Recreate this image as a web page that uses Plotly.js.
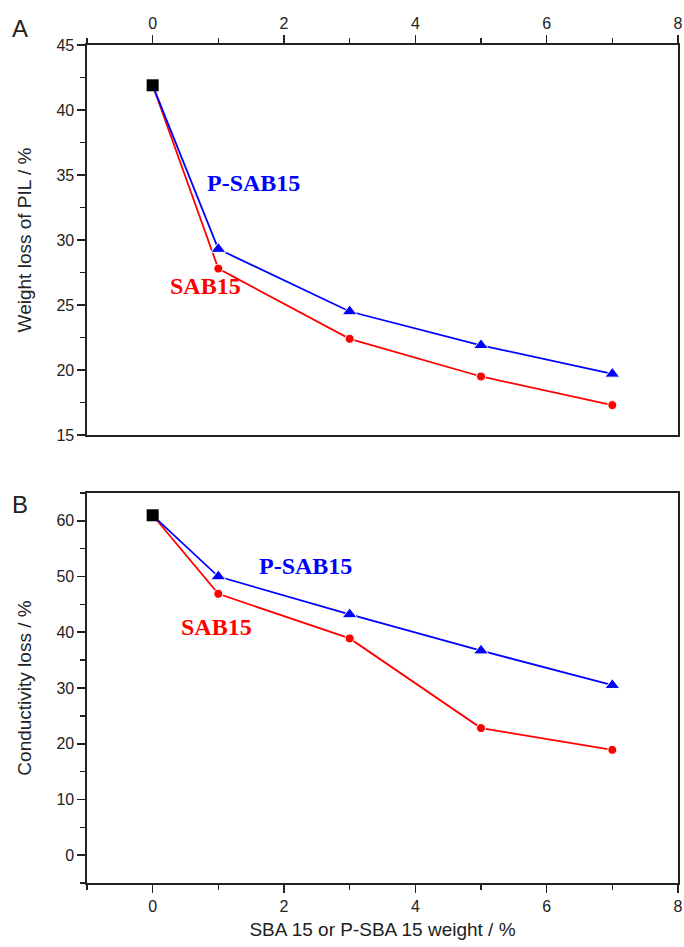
<!DOCTYPE html>
<html>
<head>
<meta charset="utf-8">
<script src="https://cdn.plot.ly/plotly-3.0.1.min.js"></script>
<style>html,body{margin:0;padding:0;background:#fff;}#chart{width:684px;height:947px;}</style>
</head>
<body>
<div id="chart"></div>
<script>
// SBA 15 or P-SBA 15 weight / %
const weights = [0, 1, 3, 5, 7];
// Panel A: Weight loss of PIL / %
const weightLossPSAB15 = [41.9, 29.3, 24.5, 21.9, 19.7];
const weightLossSAB15  = [41.9, 27.8, 22.4, 19.5, 17.3];
// Panel B: Conductivity loss / %
const condLossPSAB15 = [61.0, 50.0, 43.2, 36.7, 30.5];
const condLossSAB15  = [61.0, 46.9, 38.9, 22.8, 18.9];
// Pure PIL reference point (0 %)
const refX = [0];
const refWeightLoss = [41.9];
const refCondLoss = [61.0];
const xTicks = [0, 2, 4, 6, 8];
const yTicksA = [15, 20, 25, 30, 35, 40, 45];
const yTicksB = [0, 10, 20, 30, 40, 50, 60];

const BLUE = '#0000ff', RED = '#ff0000';
const sizes = s => weights.map((w, i) => i === 0 ? 0 : s);

const traces = [
  {x: weights, y: weightLossSAB15, xaxis: 'x', yaxis: 'y', mode: 'lines+markers',
   line: {color: RED, width: 1.8}, marker: {symbol: 'circle', size: sizes(9), color: RED, opacity: 1}},
  {x: weights, y: weightLossPSAB15, xaxis: 'x', yaxis: 'y', mode: 'lines+markers',
   line: {color: BLUE, width: 1.8}, marker: {symbol: 'triangle-up', size: sizes(13), color: BLUE, opacity: 1}},
  {x: refX, y: refWeightLoss, xaxis: 'x', yaxis: 'y', mode: 'markers',
   marker: {symbol: 'square', size: 12, color: '#000'}},
  {x: weights, y: condLossSAB15, xaxis: 'x2', yaxis: 'y2', mode: 'lines+markers',
   line: {color: RED, width: 1.8}, marker: {symbol: 'circle', size: sizes(9), color: RED, opacity: 1}},
  {x: weights, y: condLossPSAB15, xaxis: 'x2', yaxis: 'y2', mode: 'lines+markers',
   line: {color: BLUE, width: 1.8}, marker: {symbol: 'triangle-up', size: sizes(13), color: BLUE, opacity: 1}},
  {x: refX, y: refCondLoss, xaxis: 'x2', yaxis: 'y2', mode: 'markers',
   marker: {symbol: 'square', size: 12, color: '#000'}}
];

const SANS = 'Liberation Sans, Arial, sans-serif';
const SERIF = 'Liberation Serif, Times New Roman, serif';
const axisFont = {family: SANS, size: 16, color: '#222'};
const titleFont = {family: SANS, size: 19, color: '#222'};
const minorTick = {ticks: 'outside', ticklen: 5, tickwidth: 1.3, tickcolor: '#222'};
const baseAxis = {
  showgrid: false, zeroline: false, showline: true, linecolor: '#222', linewidth: 1.6,
  mirror: true, ticks: 'outside', ticklen: 8, tickwidth: 1.6, tickcolor: '#222',
  tickfont: axisFont, automargin: false
};

const layout = {
  width: 684, height: 947,
  margin: {l: 87, r: 6, t: 45, b: 64},
  paper_bgcolor: '#fff', plot_bgcolor: '#fff',
  showlegend: false,
  xaxis: Object.assign({}, baseAxis, {
    domain: [0, 1], anchor: 'y', side: 'top', range: [-1, 8],
    tickvals: xTicks, ticktext: xTicks.map(String),
    minor: Object.assign({dtick: 1, tick0: -1}, minorTick)
  }),
  yaxis: Object.assign({}, baseAxis, {
    domain: [0.5346, 1], anchor: 'x', range: [15, 45],
    tickvals: yTicksA, ticktext: yTicksA.map(String),
    minor: Object.assign({dtick: 2.5, tick0: 15}, minorTick),
    title: {text: 'Weight loss of PIL / %', standoff: 20, font: titleFont}
  }),
  xaxis2: Object.assign({}, baseAxis, {
    domain: [0, 1], anchor: 'y2', side: 'bottom', range: [-1, 8],
    tickvals: xTicks, ticktext: xTicks.map(String),
    minor: Object.assign({dtick: 1, tick0: -1}, minorTick),
    title: {text: 'SBA 15 or P-SBA 15 weight / %', standoff: 9, font: titleFont}
  }),
  yaxis2: Object.assign({}, baseAxis, {
    domain: [0, 0.4654], anchor: 'x2', range: [-5, 65],
    tickvals: yTicksB, ticktext: yTicksB.map(String),
    minor: Object.assign({dtick: 5, tick0: -5}, minorTick),
    title: {text: 'Conductivity loss / %', standoff: 20, font: titleFont}
  }),
  annotations: [
    {text: 'P-SAB15', x: 1.54, y: 34.4, xref: 'x', yref: 'y', showarrow: false,
     font: {family: SERIF, size: 24, color: BLUE, weight: 'bold'}},
    {text: 'SAB15', x: 0.8, y: 26.5, xref: 'x', yref: 'y', showarrow: false,
     font: {family: SERIF, size: 24, color: RED, weight: 'bold'}},
    {text: 'P-SAB15', x: 2.32, y: 51.9, xref: 'x2', yref: 'y2', showarrow: false,
     font: {family: SERIF, size: 24, color: BLUE, weight: 'bold'}},
    {text: 'SAB15', x: 0.97, y: 41.0, xref: 'x2', yref: 'y2', showarrow: false,
     font: {family: SERIF, size: 24, color: RED, weight: 'bold'}},
    {text: 'A', x: 10, y: 28, xref: 'paper', yref: 'paper', showarrow: false, xanchor: 'left', yanchor: 'middle',
     font: {family: SANS, size: 24, color: '#222'}},
    {text: 'B', x: 10, y: 505, xref: 'paper', yref: 'paper', showarrow: false, xanchor: 'left', yanchor: 'middle',
     font: {family: SANS, size: 24, color: '#222'}}
  ]
};
// panel letters positioned in pixels -> convert to paper coords
const plotW = 684 - 87 - 6, plotH = 947 - 45 - 64;
layout.annotations.slice(4).forEach(a => {
  const px = a.x, py = a.y;
  a.x = (px - 87) / plotW;
  a.y = 1 - (py - 45) / plotH;
});

Plotly.newPlot('chart', traces, layout, {displayModeBar: false, staticPlot: true});
</script>
</body>
</html>
